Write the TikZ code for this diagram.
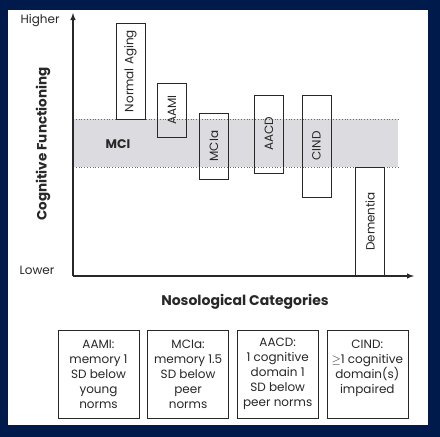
\documentclass[tikz,border=0pt]{standalone}
\usepackage{fontspec}
\setmainfont{Poppins}
\usepackage{xcolor}
\usetikzlibrary{shapes,arrows,positioning}
\definecolor{navy}{RGB}{1,26,76}
\definecolor{band}{RGB}{220,220,224}
\definecolor{ink}{RGB}{40,40,40}

\begin{document}
\begin{tikzpicture}[x=1pt, y=-1pt, font=\fontsize{12}{15}\selectfont, text=ink,
    catbox/.style={draw=ink, semithick, rotate=90, inner sep=0pt, minimum height=29pt},
    defbox/.style={draw=ink, semithick, minimum width=81pt, minimum height=88pt, align=center, inner sep=0pt},
    axis/.style={-latex, line width=1.4pt, draw=ink}]
        % Frame: dark border and white panel
        \fill[navy] (0,0) rectangle (440,437);
        \fill[white] (8,10) rectangle (428,425);
        \useasboundingbox (0,0) rectangle (440,437);

        % MCI band (between the two dotted lines)
        \fill[band] (73,119) rectangle (398,167);
        \draw[dotted, thick, ink!70] (73,119) -- (398,119);
        \draw[dotted, thick, ink!70] (73,167) -- (398,167);
        \node[font=\fontsize{12.5}{14}\selectfont\bfseries] (mci) at (118,144) {MCI};

        % Axes
        \coordinate (origin) at (73,276);
        \coordinate (ytop) at (73,13);
        \coordinate (xend) at (414,276);
        \draw[axis] (origin) -- (ytop);
        \draw[axis] (origin) -- (xend);
        \node (higher) at (40,21) {Higher};
        \node (lower) at (37,270) {Lower};
        \node[rotate=90, font=\fontsize{13.5}{15}\selectfont\bfseries] (ylab) at (43,144) {Cognitive Functioning};
        \node[font=\fontsize{14}{16}\selectfont\bfseries] (xlab) at (245,302) {Nosological Categories};

        % Categories (rotated boxes)
        \node[catbox, minimum width=96pt] (aging) at (130.5,71) {Normal Aging};
        \node[catbox, minimum width=54pt] (aami) at (172,110) {AAMI};
        \node[catbox, minimum width=66pt] (mcia) at (214,146) {MCIa};
        \node[catbox, minimum width=78pt] (aacd) at (269,134) {AACD};
        \node[catbox, minimum width=102pt] (cind) at (316.5,146) {CIND};
        \node[catbox, minimum width=109pt] (dementia) at (370,221.5) {Dementia};

        % Definitions
        \node[defbox] (defaami) at (98.5,374) {AAMI:\\memory 1\\SD below\\young\\norms};
        \node[defbox, right=8pt of defaami] (defmcia) {MCIa:\\memory 1.5\\SD below\\peer\\norms};
        \node[defbox, right=8pt of defmcia] (defaacd) {AACD:\\1 cognitive\\domain 1\\SD below\\peer norms};
        \node[defbox, right=8pt of defaacd] (defcind) {CIND:\\$\geq$1 cognitive\\domain(s)\\impaired\\\mbox{}};
    \end{tikzpicture}
\end{document}
